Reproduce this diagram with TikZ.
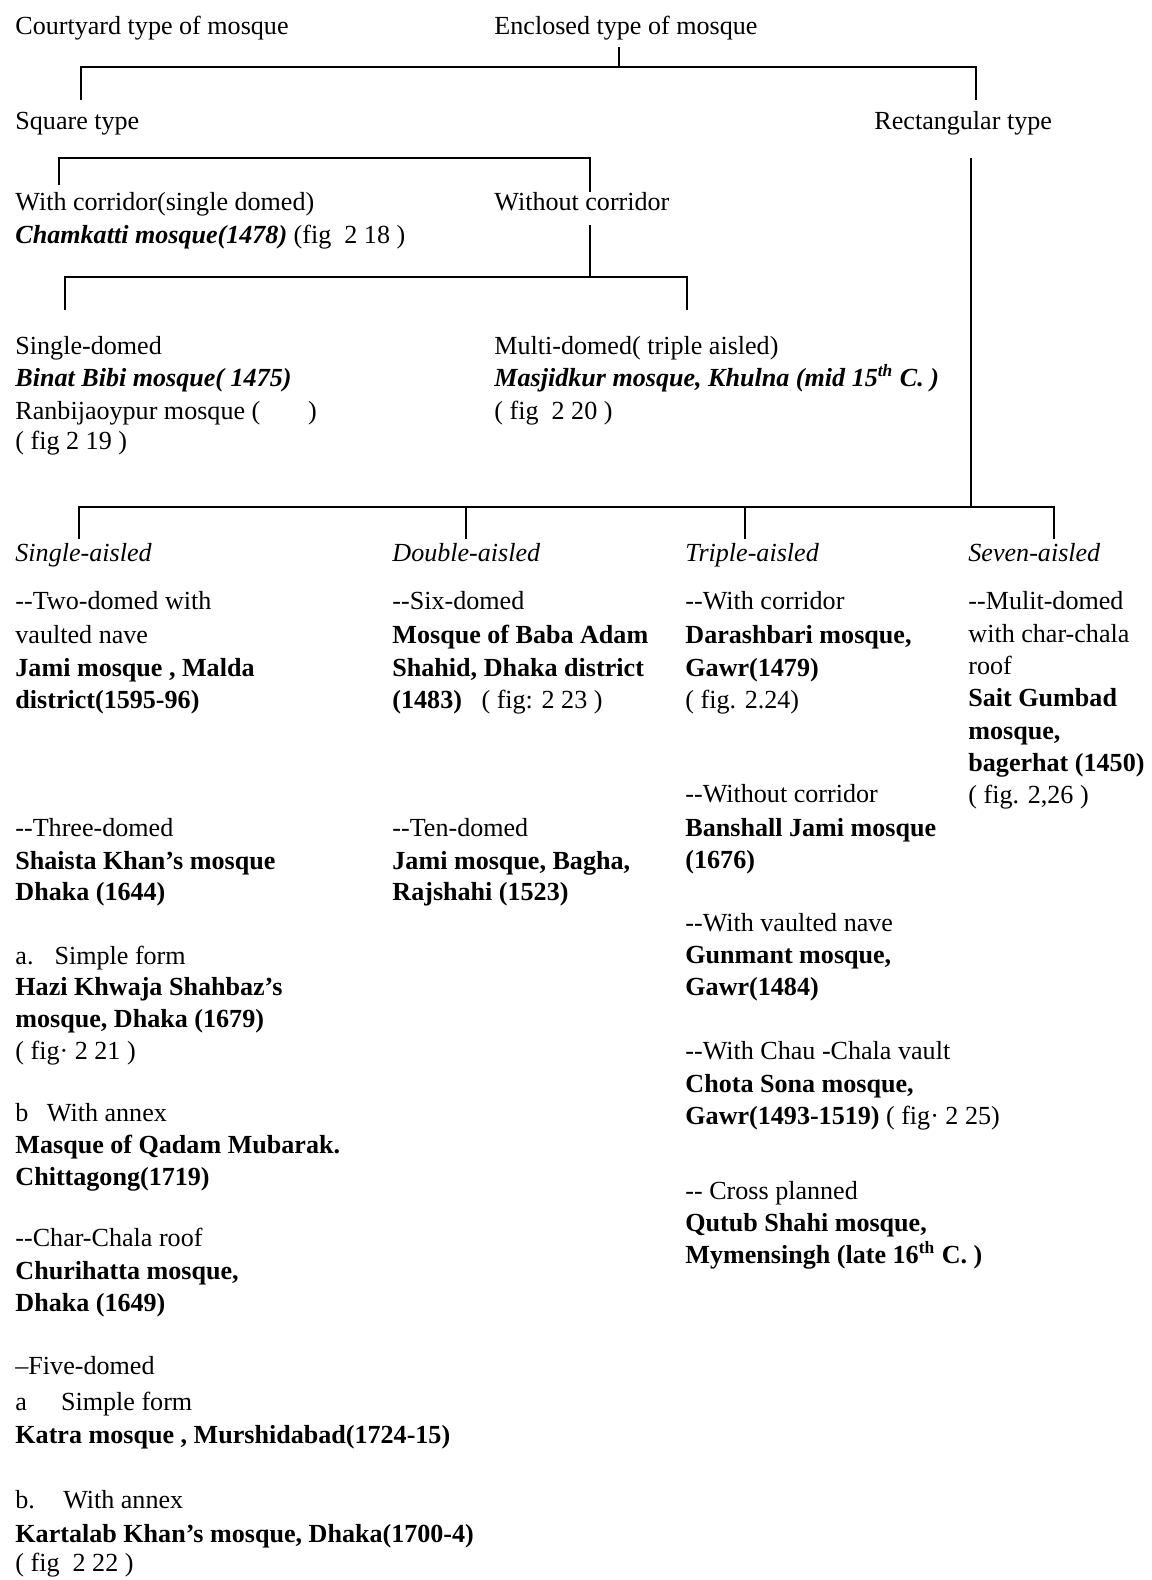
\documentclass[tikz,border=0pt]{standalone}
\usepackage{fontspec}
\setmainfont{Liberation Serif}
\begin{document}
\begin{tikzpicture}[x=0.46pt,y=-0.46pt,
  txt/.style={anchor=base west, inner sep=0pt, font=\fontsize{12}{14}\selectfont},
  bft/.style={txt, font=\fontsize{12}{14}\selectfont\bfseries},
  itt/.style={txt, font=\fontsize{12}{14}\selectfont\itshape},
  bit/.style={txt, font=\fontsize{12}{14}\selectfont\bfseries\itshape},
  link/.style={line width=0.8pt}]
\useasboundingbox[fill=white] (0,0) rectangle (1152,1580);

% ---------- top levels ----------
\node[txt] (court) at (15,34) {Courtyard type of mosque};
\node[txt] (encl) at (494,34) {Enclosed type of mosque};
\node[txt] (square) at (15,129) {Square type};
\node[txt] (rect) at (874,129) {Rectangular type};

\coordinate (e0) at (619,47);
\coordinate (b1) at (619,67);
\coordinate (b1l) at (81,67);  \coordinate (b1r) at (976,67);
\coordinate (d1l) at (81,100); \coordinate (d1r) at (976,100);
\draw[link] (e0) -- (b1);
\draw[link] (d1l) -- (b1l) -- (b1r) -- (d1r);

% ---------- square type ----------
\node[txt] (withc) at (15,210) {With corridor(single domed)};
\node[txt] (chamk) at (15,243) {\textbf{\textit{Chamkatti mosque(1478)}} (fig\ \ 2 18 )};
\node[txt] (withoutc) at (494,210) {Without corridor};

\coordinate (b2l) at (59,158); \coordinate (b2r) at (590,158);
\coordinate (d2l) at (59,185); \coordinate (d2r) at (590,192);
\draw[link] (d2l) -- (b2l) -- (b2r) -- (d2r);

\coordinate (w0) at (590,225);
\coordinate (b3) at (590,277);
\coordinate (b3l) at (65,277); \coordinate (b3r) at (687,277);
\coordinate (d3l) at (65,310); \coordinate (d3r) at (687,310);
\draw[link] (w0) -- (b3);
\draw[link] (d3l) -- (b3l) -- (b3r) -- (d3r);

\node[txt] (sd1) at (15,354) {Single-domed};
\node[bit] (sd2) at (15,386) {Binat Bibi mosque( 1475)};
\node[txt] (sd3) at (15,419) {Ranbijaoypur mosque (\hspace{22pt})};
\node[txt] (sd4) at (15,449) {( fig 2 19 )};

\node[txt] (md1) at (494,354) {Multi-domed( triple aisled)};
\node[bit] (md2) at (494,386) {Masjidkur mosque, Khulna (mid 15\textsuperscript{th} C. )};
\node[txt] (md3) at (494,419) {( fig\ \ 2 20 )};

% ---------- rectangular type ----------
\coordinate (r0) at (971,158);
\coordinate (b4) at (971,507);
\coordinate (b4l) at (79,507); \coordinate (b4r) at (1054,507);
\coordinate (b4b) at (466,507); \coordinate (b4c) at (745,507);
\coordinate (d4a) at (79,539); \coordinate (d4b) at (466,539);
\coordinate (d4c) at (745,539); \coordinate (d4d) at (1054,539);
\draw[link] (r0) -- (b4);
\draw[link] (d4a) -- (b4l) -- (b4r) -- (d4d);
\draw[link] (b4b) -- (d4b);
\draw[link] (b4c) -- (d4c);

\node[itt] (h1) at (15,561) {Single-aisled};
\node[itt] (h2) at (392,561) {Double-aisled};
\node[itt] (h3) at (685,561) {Triple-aisled};
\node[itt] (h4) at (968,561) {Seven-aisled};

% column 1
\node[txt] (a1) at (15,609) {-{}-Two-domed with};
\node[txt] (a2) at (15,643) {vaulted nave};
\node[bft] (a3) at (15,676) {Jami mosque , Malda};
\node[bft] (a4) at (15,708) {district(1595-96)};

\node[txt] (a5) at (15,836) {-{}-Three-domed};
\node[bft] (a6) at (15,869) {Shaista Khan's mosque};
\node[bft] (a7) at (15,900) {Dhaka (1644)};

\node[txt] (a8) at (15,964) {\makebox[18pt][l]{a.}Simple form};
\node[bft] (a9) at (15,995) {Hazi Khwaja Shahbaz's};
\node[bft] (a10) at (15,1027) {mosque, Dhaka (1679)};
\node[txt] (a11) at (15,1059) {( fig· 2 21 )};

\node[txt] (a12) at (15,1121) {\makebox[14.5pt][l]{b}With annex};
\node[bft] (a13) at (15,1153) {Masque of Qadam Mubarak.};
\node[bft] (a14) at (15,1185) {Chittagong(1719)};

\node[txt] (a15) at (15,1246) {-{}-Char-Chala roof};
\node[bft] (a16) at (15,1279) {Churihatta mosque,};
\node[bft] (a17) at (15,1311) {Dhaka (1649)};

\node[txt] (a18) at (15,1374) {–Five-domed};
\node[txt] (a19) at (15,1410) {\makebox[21pt][l]{a}Simple form};
\node[bft] (a20) at (15,1443) {Katra mosque , Murshidabad(1724-15)};

\node[txt] (a21) at (15,1508) {\makebox[22pt][l]{b.}With annex};
\node[bft] (a22) at (15,1542) {Kartalab Khan's mosque, Dhaka(1700-4)};
\node[txt] (a23) at (15,1571) {( fig\ \ 2 22 )};

% column 2
\node[txt] (b1t) at (392,609) {-{}-Six-domed};
\node[bft] (b2t) at (392,643) {Mosque of Baba Adam};
\node[bft] (b3t) at (392,676) {Shahid, Dhaka district};
\node[txt] (b4t) at (392,708) {\textbf{(1483)}\ \ \ ( fig: 2 23 )};
\node[txt] (b5t) at (392,836) {-{}-Ten-domed};
\node[bft] (b6t) at (392,869) {Jami mosque, Bagha,};
\node[bft] (b7t) at (392,900) {Rajshahi (1523)};

% column 3
\node[txt] (c1) at (685,609) {-{}-With corridor};
\node[bft] (c2) at (685,643) {Darashbari mosque,};
\node[bft] (c3) at (685,676) {Gawr(1479)};
\node[txt] (c4) at (685,708) {( fig. 2.24)};
\node[txt] (c5) at (685,802) {-{}-Without corridor};
\node[bft] (c6) at (685,836) {Banshall Jami mosque};
\node[bft] (c7) at (685,868) {(1676)};
\node[txt] (c8) at (685,931) {-{}-With vaulted nave};
\node[bft] (c9) at (685,963) {Gunmant mosque,};
\node[bft] (c10) at (685,995) {Gawr(1484)};
\node[txt] (c11) at (685,1059) {-{}-With Chau -Chala vault};
\node[bft] (c12) at (685,1092) {Chota Sona mosque,};
\node[txt] (c13) at (685,1124) {\textbf{Gawr(1493-1519)} ( fig· 2 25)};
\node[txt] (c14) at (685,1199) {-{}- Cross planned};
\node[bft] (c15) at (685,1231) {Qutub Shahi mosque,};
\node[bft] (c16) at (685,1263) {Mymensingh (late 16\textsuperscript{th} C. )};

% column 4
\node[txt] (s1) at (968,609) {-{}-Mulit-domed};
\node[txt] (s2) at (968,642) {with char-chala};
\node[txt] (s3) at (968,674) {roof};
\node[bft] (s4) at (968,706) {Sait Gumbad};
\node[bft] (s5) at (968,739) {mosque,};
\node[bft] (s6) at (968,771) {bagerhat (1450)};
\node[txt] (s7) at (968,803) {( fig. 2,26 )};
\end{tikzpicture}
\end{document}
